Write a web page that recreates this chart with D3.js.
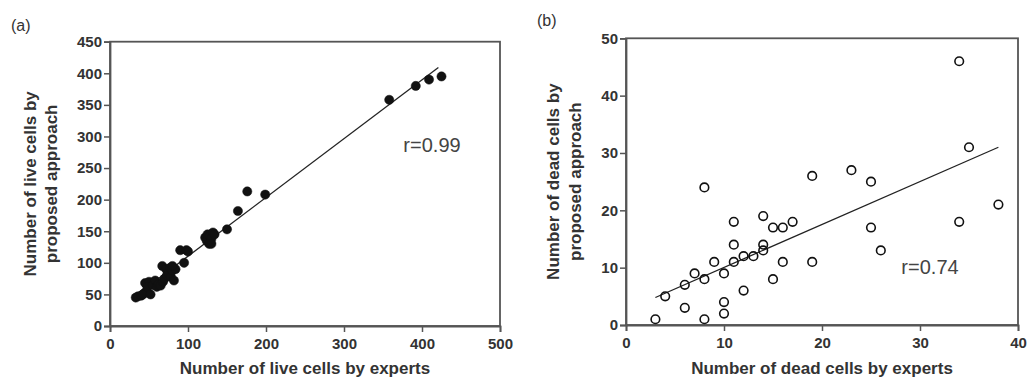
<!DOCTYPE html>
<html><head><meta charset="utf-8">
<script src="https://cdn.jsdelivr.net/npm/d3@7"></script>
<style>
body{margin:0;background:#fff;}
svg{display:block;}
text{font-family:"Liberation Sans",Arial,sans-serif;}
</style></head>
<body>
<svg id="c" width="1029" height="383"></svg>
<script>
// Panel (a): live cells [experts, proposed]
const liveCells = [[33,45],[36,47],[40,48],[44,52],[47,55],[42,50],[45,68],[50,70],[48,62],[52,50],[55,65],[58,72],[60,62],[62,66],[65,64],[67,95],[68,70],[70,75],[72,90],[73,80],[75,85],[77,92],[78,78],[80,88],[82,72],[84,90],[80,95],[90,120],[95,100],[98,120],[100,118],[122,140],[124,135],[125,145],[127,130],[128,142],[130,138],[132,148],[134,145],[130,130],[150,153],[164,182],[176,213],[199,208],[358,358],[392,380],[409,390],[425,395]];
const fitLineA = [[35,50],[421,409]];
const xTicksA = [0,100,200,300,400,500];
const yTicksA = [0,50,100,150,200,250,300,350,400,450];

// Panel (b): dead cells [experts, proposed]
const deadCells = [[3,1],[4,5],[6,7],[6,3],[7,9],[8,8],[8,24],[8,1],[9,11],[10,9],[10,4],[10,2],[11,18],[11,14],[11,11],[12,12],[12,6],[13,12],[14,19],[14,14],[14,13],[15,17],[15,8],[16,17],[16,11],[17,18],[19,26],[19,11],[23,27],[25,25],[25,17],[26,13],[34,46],[35,31],[34,18],[38,21]];
const fitLineB = [[3,4.8],[38,31]];
const xTicksB = [0,10,20,30,40];
const yTicksB = [0,10,20,30,40,50];

const svg = d3.select("#c");

function panel(opt){
  const g = svg.append("g");
  const x = d3.scaleLinear().domain(opt.xDomain).range([opt.left, opt.right]);
  const y = d3.scaleLinear().domain(opt.yDomain).range([opt.bottom, opt.top]);
  g.append("rect").attr("x",opt.left).attr("y",opt.top)
    .attr("width",opt.right-opt.left).attr("height",opt.bottom-opt.top)
    .attr("fill","none").attr("stroke","#555").attr("stroke-width",1.8);
  const xa = g.append("g").attr("transform",`translate(0,${opt.bottom})`)
    .call(d3.axisBottom(x).tickValues(opt.xTicks).tickSize(6).tickPadding(6).tickFormat(d3.format("d")));
  const ya = g.append("g").attr("transform",`translate(${opt.left},0)`)
    .call(d3.axisLeft(y).tickValues(opt.yTicks).tickSize(6).tickPadding(2).tickFormat(d3.format("d")));
  [xa,ya].forEach(a=>{
    a.select(".domain").attr("stroke","#555").attr("stroke-width",1.8);
    a.selectAll(".tick line").attr("stroke","#555").attr("stroke-width",1.5);
    a.selectAll(".tick text").attr("fill","#333").style("font-size","15px").style("font-weight","bold");
  });
  g.append("line").attr("x1",x(opt.fit[0][0])).attr("y1",y(opt.fit[0][1]))
    .attr("x2",x(opt.fit[1][0])).attr("y2",y(opt.fit[1][1]))
    .attr("stroke","#222").attr("stroke-width",1.3);
  g.selectAll("circle.p").data(opt.data).enter().append("circle")
    .attr("cx",d=>x(d[0])).attr("cy",d=>y(d[1])).attr("r",opt.filled?4.6:4.3)
    .attr("fill",opt.filled?"#111":"none").attr("stroke","#111").attr("stroke-width",opt.filled?0.5:1.6);
  g.append("text").attr("x",opt.rx).attr("y",opt.ry).attr("text-anchor","middle")
    .style("font-size","20px").attr("fill","#444").text(opt.rText);
  g.append("text").attr("x",(opt.left+opt.right)/2).attr("y",374).attr("text-anchor","middle")
    .style("font-size","17px").style("font-weight","bold").attr("fill","#333").text(opt.xTitle);
  const cy = (opt.top+opt.bottom)/2;
  opt.yTitle.forEach((t,i)=>{
    g.append("text").attr("transform",`translate(${opt.yTitleX[i]},${cy}) rotate(-90)`)
      .attr("text-anchor","middle").attr("dy","0.35em")
      .style("font-size","17px").style("font-weight","bold").attr("fill","#333").text(t);
  });
  g.append("text").attr("x",opt.labX).attr("y",opt.labY).style("font-size","16px").attr("fill","#333").text(opt.lab);
}

panel({xDomain:[0,500],yDomain:[0,450],left:110,right:500,top:41.7,bottom:326,
  xTicks:xTicksA,yTicks:yTicksA,data:liveCells,fit:fitLineA,filled:true,
  rx:432,ry:152,rText:"r=0.99",xTitle:"Number of live cells by experts",
  yTitle:["Number of live cells by","proposed approach"],yTitleX:[30,51],
  lab:"(a)",labX:11,labY:31});

panel({xDomain:[0,40],yDomain:[0,50],left:626,right:1018,top:38.3,bottom:325,
  xTicks:xTicksB,yTicks:yTicksB,data:deadCells,fit:fitLineB,filled:false,
  rx:930,ry:274,rText:"r=0.74",xTitle:"Number of dead cells by experts",
  yTitle:["Number of dead cells by","proposed approach"],yTitleX:[553,575],
  lab:"(b)",labX:537,labY:26});
</script>
</body></html>
